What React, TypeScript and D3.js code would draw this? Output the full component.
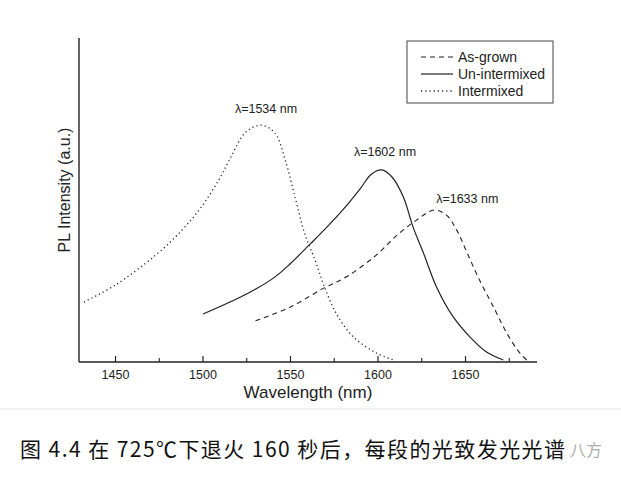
import React from "react";
import * as d3 from "d3";

const intermixedX = [1432, 1450, 1473, 1488, 1499, 1509, 1516, 1524, 1533, 1541, 1547, 1553, 1558, 1564, 1569, 1576, 1586, 1599, 1609];
const intermixedY = [18.5, 23.8, 33.0, 40.7, 47.8, 56.2, 63.3, 70.7, 73.1, 70.7, 62.3, 50.0, 39.8, 31.5, 23.8, 15.1, 7.7, 2.8, 0.6];
const unintermixedX = [1500, 1526, 1541, 1550, 1561, 1569, 1580, 1590, 1596, 1602, 1608, 1614.5, 1620, 1626, 1633.5, 1643, 1652.6, 1662, 1671.6];
const unintermixedY = [14.8, 21.3, 26.2, 30.4, 36.3, 40.6, 47.0, 53.6, 57.9, 59.3, 57.1, 50.9, 41.7, 33.6, 23.1, 13.9, 7.7, 3.1, 0.6];
const asGrownX = [1530, 1550, 1569, 1582, 1599, 1611, 1622, 1632, 1639, 1645, 1651, 1658, 1666, 1673.5, 1681, 1685];
const asGrownY = [12.7, 17.0, 22.8, 26.3, 33.0, 39.2, 43.8, 46.9, 45.4, 40.7, 33.6, 25.3, 17.0, 9.0, 2.8, 0.6];

const majorTicks = [1450, 1500, 1550, 1600, 1650];
const minorTicks = [1475, 1525, 1575, 1625, 1675];
const peakLabels = ["λ=1534 nm", "λ=1602 nm", "λ=1633 nm"];
const peakLabelX = [1536, 1604, 1651];
const peakLabelY = [77, 63.5, 49];
const legendNames = ["As-grown", "Un-intermixed", "Intermixed"];
const caption = "图 4.4 在 725℃下退火 160 秒后，每段的光致发光光谱";

export default function App() {
  const W = 621, H = 477;
  const x = d3.scaleLinear().domain([1500, 1600]).range([203, 378]);
  const y = d3.scaleLinear().domain([0, 100]).range([362, 38]);
  const x0 = x.invert(79), x1 = x.invert(537);
  const line = d3.line<[number, number]>().x(d => x(d[0])).y(d => y(d[1])).curve(d3.curveCatmullRom.alpha(0.5));
  const zip = (a: number[], b: number[]) => a.map((v, i) => [v, b[i]] as [number, number]);
  const ink = "#222";
  const font = "'Liberation Sans', Arial, sans-serif";
  const styles = [
    { dash: "5,4", w: 1.1 },
    { dash: "", w: 1.2 },
    { dash: "1.2,3", w: 1.3 },
  ];
  return (
    <svg width={W} height={H} style={{ position: "absolute", left: 0, top: 0, background: "#fff" }}>
      <rect x={0} y={0} width={W} height={H} fill="#fff" />
      <line x1={x(x0)} x2={x(x1)} y1={y(0)} y2={y(0)} stroke={ink} strokeWidth={1.4} />
      <line x1={x(x0)} x2={x(x0)} y1={y(0)} y2={y(100)} stroke={ink} strokeWidth={1.4} />
      {majorTicks.map(t => (
        <g key={t}>
          <line x1={x(t)} x2={x(t)} y1={y(0)} y2={y(0) - 6} stroke={ink} strokeWidth={1.2} />
          <text x={x(t)} y={379} textAnchor="middle" fontFamily={font} fontSize={12.5} fill={ink}>{t}</text>
        </g>
      ))}
      {minorTicks.map(t => (
        <line key={t} x1={x(t)} x2={x(t)} y1={y(0)} y2={y(0) - 4} stroke={ink} strokeWidth={1.1} />
      ))}
      <text x={308} y={398} textAnchor="middle" fontFamily={font} fontSize={17} fill={ink}>Wavelength (nm)</text>
      <text transform="translate(70,190) rotate(-90)" textAnchor="middle" fontFamily={font} fontSize={16} fill={ink}>PL Intensity (a.u.)</text>
      <path d={line(zip(asGrownX, asGrownY)) || ""} fill="none" stroke={ink} strokeWidth={styles[0].w} strokeDasharray={styles[0].dash} />
      <path d={line(zip(unintermixedX, unintermixedY)) || ""} fill="none" stroke={ink} strokeWidth={styles[1].w} />
      <path d={line(zip(intermixedX, intermixedY)) || ""} fill="none" stroke={ink} strokeWidth={styles[2].w} strokeDasharray={styles[2].dash} />
      {peakLabels.map((l, i) => (
        <text key={l} x={x(peakLabelX[i])} y={y(peakLabelY[i])} textAnchor="middle" fontFamily={font} fontSize={12.5} fill={ink}>{l}</text>
      ))}
      <rect x={407} y={41} width={146} height={62} fill="#fff" stroke="#444" strokeWidth={1} />
      {legendNames.map((n, i) => (
        <g key={n}>
          <line x1={421} x2={453} y1={57 + i * 17} y2={57 + i * 17} stroke={ink} strokeWidth={styles[i].w} strokeDasharray={styles[i].dash} />
          <text x={458} y={62 + i * 17} fontFamily={font} fontSize={14} fill={ink}>{n}</text>
        </g>
      ))}
      <line x1={0} x2={W} y1={409} y2={409} stroke="#e6e6e6" strokeWidth={1} />
      <text x={20} y={457} fontFamily="'Noto Sans CJK SC', sans-serif" fontSize={21} fill="#111" textLength={545} lengthAdjust="spacing">{caption}</text>
      <text x={570} y={456} fontFamily="'Noto Sans CJK SC', sans-serif" fontSize={16} fill="#999" opacity={0.8}>八方</text>
    </svg>
  );
}
